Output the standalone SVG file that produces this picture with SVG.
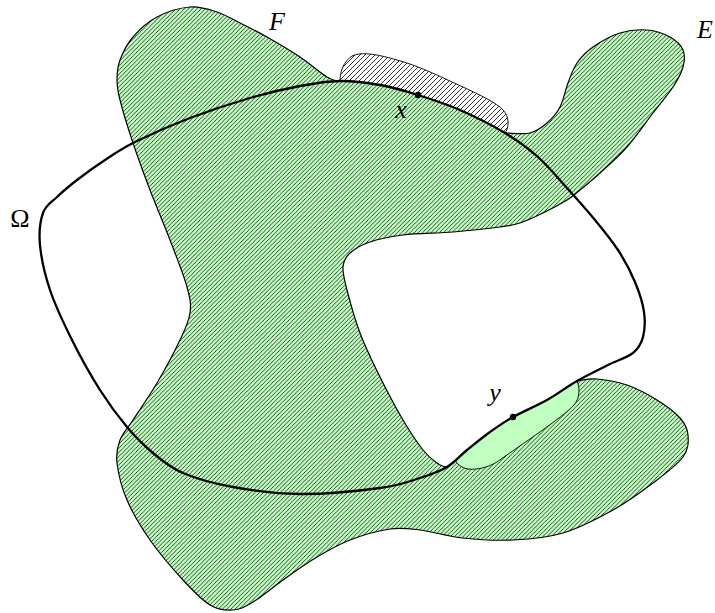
<svg xmlns="http://www.w3.org/2000/svg" width="715" height="613" viewBox="0 0 715 613">
<style>
.region{stroke:#000;stroke-width:1.2;stroke-linejoin:round}
.thin{stroke:#000;stroke-width:0.9}
.omega{fill:none;stroke:#000;stroke-width:2.3;stroke-linejoin:round}
.lbl{font-family:"Liberation Serif","DejaVu Serif",serif;font-size:26px;fill:#000;text-anchor:middle}
.it{font-style:italic}
</style>
<defs>
<pattern id="hatchG" patternUnits="userSpaceOnUse" width="4.2" height="4.2">
<rect x="0" y="0" width="4.2" height="4.2" fill="#bfffbf"/>
<path d="M-1,1 L1,-1 M0,4.2 L4.2,0 M3.2,5.2 L5.2,3.2" stroke="#000" stroke-width="0.72"/>
</pattern>
<pattern id="hatchW" patternUnits="userSpaceOnUse" width="5" height="5">
<rect x="0" y="0" width="5" height="5" fill="#fff"/>
<path d="M-1,1 L1,-1 M0,5 L5,0 M4,6 L6,4" stroke="#000" stroke-width="0.8"/>
</pattern>
</defs>
<rect width="715" height="613" fill="#fff"/>
<g id="set-EF">
<path class="region" fill="url(#hatchG)" d="M 340,81 C 353.3,80.8 367,82.7 380,85 C 393,87.3 404.7,90.8 418,95 C 431.3,99.2 445.5,103.7 460,110 C 474.5,116.3 492,125.2 505,133 C 511.25,133 523,134.7 530,133 C 537,131.3 542,127.3 547,123 C 552,118.7 556.5,113.7 560,107 C 563.5,100.3 565.2,90.3 568,83 C 570.8,75.7 572.8,69 577,63 C 581.2,57 585.8,52 593,47 C 600.2,42 611,35.8 620,33 C 629,30.2 638.7,29.3 647,30 C 655.3,30.7 664,33.7 670,37 C 676,40.3 680.8,45 683,50 C 685.2,55 684.7,60.8 683,67 C 681.3,73.2 678,79.3 673,87 C 668,94.7 660.7,103 653,113 C 645.3,123 635.8,137 627,147 C 618.2,157 607.8,165.8 600,173 C 592.2,180.2 585.5,185.5 580,190 C 574.5,194.5 573.2,196.2 567,200 C 560.8,203.8 550.8,209.2 543,213 C 535.2,216.8 527.2,220.7 520,223 C 512.8,225.3 511.2,225.5 500,227 C 488.8,228.5 469.2,230.7 453,232 C 436.8,233.3 416.8,233.3 403,235 C 389.2,236.7 378.8,239 370,242 C 361.2,245 354.5,248.8 350,253 C 345.5,257.2 343.5,260.8 343,267 C 342.5,273.2 344.2,279 347,290 C 349.8,301 354.5,318.5 360,333 C 365.5,347.5 372.8,362.5 380,377 C 387.2,391.5 395.8,407.8 403,420 C 410.2,432.2 417.3,442.8 423,450 C 428.7,457.2 433,460.2 437,463 C 441,465.8 444,467 447,467 C 454.8,462.3 459.8,455.8 467,450 C 474.2,444.2 482.3,437.5 490,432 C 497.7,426.5 503.5,422.3 513,417 C 522.5,411.7 536.3,406 547,400 C 557.7,394 566.8,386.8 577,381 C 582,380.5 588.7,378.3 597,379 C 605.3,379.7 617,381.5 627,385 C 637,388.5 648.2,394.5 657,400 C 665.8,405.5 674.8,412.2 680,418 C 685.2,423.8 687.5,428.5 688,435 C 688.5,441.5 688.8,449 683,457 C 677.2,465 664.7,474.2 653,483 C 641.3,491.8 628,501.7 613,510 C 598,518.3 579.7,528 563,533 C 546.3,538 529.7,539.2 513,540 C 496.3,540.8 478.5,539.7 463,538 C 447.5,536.3 432.2,531.5 420,530 C 407.8,528.5 401.7,527.3 390,529 C 378.3,530.7 362.2,535.3 350,540 C 337.8,544.7 328.2,550.3 317,557 C 305.8,563.7 293.7,572.3 283,580 C 272.3,587.7 261.3,597 253,602 C 244.7,607 240.2,609.5 233,610 C 225.8,610.5 218.3,610 210,605 C 201.7,600 193,590.8 183,580 C 173,569.2 159.3,553.3 150,540 C 140.7,526.7 132.5,512.8 127,500 C 121.5,487.2 118.2,473 117,463 C 115.8,453 117.3,447.2 120,440 C 122.7,432.8 126.8,429.5 133,420 C 139.2,410.5 149.2,396.3 157,383 C 164.8,369.7 174.5,351.7 180,340 C 185.5,328.3 188.8,321.8 190,313 C 191.2,304.2 190.3,299.2 187,287 C 183.7,274.8 176.2,256.2 170,240 C 163.8,223.8 156.2,206.2 150,190 C 143.8,173.8 138,158 133,143 C 128,128 122.7,110.5 120,100 C 117.3,89.5 117,86.7 117,80 C 117,73.3 117.3,67.2 120,60 C 122.7,52.8 126.8,44.2 133,37 C 139.2,29.8 147.5,22 157,17 C 166.5,12 180,7.8 190,7 C 200,6.2 208.7,9.3 217,12 C 225.3,14.7 231.7,18.8 240,23 C 248.3,27.2 257,31.3 267,37 C 277,42.7 290,50.3 300,57 C 310,63.7 320.3,73 327,77 C 332,80 336,81 340,81 Z"/>
</g>
<g id="patch-x">
<path class="thin" fill="url(#hatchW)" d="M 340,81 C 353.3,80.8 367,82.7 380,85 C 393,87.3 404.7,90.8 418,95 C 431.3,99.2 445.5,103.7 460,110 C 474.5,116.3 492,125.2 505,133 C 509,128 510,117 503,110 C 497,103 480,95 463,87 C 445,79 420,66 397,60 C 380,55 362,51 352,56 C 344,61 340,71 340,81 Z"/>
</g>
<g id="patch-y">
<path class="thin" fill="#bfffbf" d="M 455.3,460.7 C 459.15,457.21 462.68,453.48 467,450 C 474.2,444.2 482.3,437.5 490,432 C 497.7,426.5 503.5,422.3 513,417 C 522.5,411.7 536.3,406 547,400 C 557.7,394 566.8,386.8 577,381 C 580,388 580,398 574,405 C 562,418 522,444 497,462 C 487,468 476,470 468,469 C 462,468 458,465 455.3,460.7 Z"/>
</g>
<g id="connectors"></g>
<g id="omega">
<path class="omega" d="M 340,81 C 353.3,80.8 367,82.7 380,85 C 393,87.3 404.7,90.8 418,95 C 431.3,99.2 445.5,103.7 460,110 C 474.5,116.3 492,125.2 505,133 C 518,140.8 527.7,147.8 538,157 C 548.3,166.2 557.5,177.5 567,188 C 576.5,198.5 586.5,209.7 595,220 C 603.5,230.3 611.3,239.7 618,250 C 624.7,260.3 630.7,271.7 635,282 C 639.3,292.3 642.7,302.8 644,312 C 645.3,321.2 644.8,330.2 643,337 C 641.2,343.8 638.8,348.3 633,353 C 627.2,357.7 617.3,360.3 608,365 C 598.7,369.7 587.2,375.2 577,381 C 566.8,386.8 557.7,394 547,400 C 536.3,406 522.5,411.7 513,417 C 503.5,422.3 497.7,426.5 490,432 C 482.3,437.5 474.2,444.2 467,450 C 459.8,455.8 454.8,462.3 447,467 C 439.2,471.7 431.2,474.5 420,478 C 408.8,481.5 400,485.3 380,488 C 360,490.7 324.5,494.2 300,494 C 275.5,493.8 252.5,490.5 233,487 C 213.5,483.5 196.3,478.7 183,473 C 169.7,467.3 162.3,460.7 153,453 C 143.7,445.3 135.8,437.5 127,427 C 118.2,416.5 109.2,404.5 100,390 C 90.8,375.5 80.3,356.7 72,340 C 63.7,323.3 55.3,305.8 50,290 C 44.7,274.2 41.2,257.8 40,245 C 38.8,232.2 40.2,221 43,213 C 45.8,205 51.3,202.5 57,197 C 62.7,191.5 69,186.2 77,180 C 85,173.8 95.3,166.3 105,160 C 114.7,153.7 120.8,149 135,142 C 149.2,135 170.8,125.3 190,118 C 209.2,110.7 231.7,103.3 250,98 C 268.3,92.7 285,88.8 300,86 C 315,83.2 326.7,81.2 340,81 Z"/>
</g>
<g id="point-x"><circle cx="418" cy="95" r="3.2" fill="#000"/><text class="lbl it" x="401" y="118">x</text></g>
<g id="point-y"><circle cx="513" cy="417" r="3.2" fill="#000"/><text class="lbl it" x="495" y="401">y</text></g>
<g id="labels">
<text class="lbl it" x="277" y="30">F</text>
<text class="lbl it" x="705" y="38">E</text>
<text class="lbl" x="20" y="227">Ω</text>
</g>
</svg>
